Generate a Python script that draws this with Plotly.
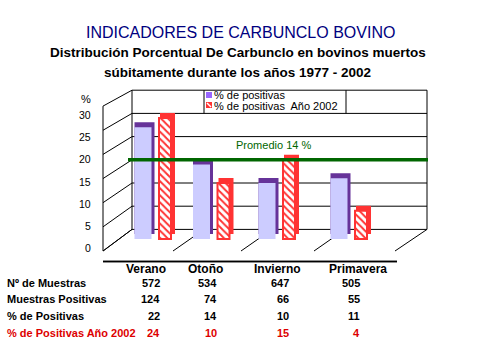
import plotly.graph_objects as go

# ---------------- data ----------------
categories = ["Verano", "Otoño", "Invierno", "Primavera"]
n_muestras = [572, 534, 647, 505]
muestras_positivas = [124, 74, 66, 55]
pct_positivas = [22, 14, 10, 11]
pct_positivas_2002 = [24, 10, 15, 4]
y_ticks = [0, 5, 10, 15, 20, 25, 30]
promedio_label = 14          # value written in the label
promedio_drawn = 15          # where the line sits on the back wall

series_names = ["% de positivas", "% de positivas  Año 2002"]
row_labels = ["Nº de Muestras", "Muestras Positivas", "% de Positivas", "% de Positivas Año 2002"]

# ---------------- layout constants (pixels) ----------------
W, H = 479, 341
FONT = "Arial, 'Liberation Sans', sans-serif"
PURPLE_FRONT = "#CCCCFF"
PURPLE_DARK = "#663399"
PURPLE_LEG = "#9966FF"
RED = "#FF3333"
RED_TXT = "#DD0000"
GREEN = "#006600"

GROUP_X = [154, 212.5, 278, 350]      # cluster centres
BAR_OFF = 11
PW, RW = 17, 12                        # bar widths
SHADOW_DX, SHADOW_DY_PX = 3, 5

# back-wall / bar scale: pixel = B0 - BS * value
B0, BS = 229.4, 4.64
# front (left) edge of side wall
F0, FS = 251.0, 4.83
# tick-label scale
L0, LS = 248.0, 4.43

X_FRONT, X_BACK, X_RIGHT = 103, 132, 427
FLOOR_FRONT_X = [103, 173, 241, 314, 395]
FLOOR_BACK_X = [132, 204, 272, 345, 427]
BAR_FLOOR = (B0 - 239.0) / BS          # bar bottoms sit on the floor
DY = SHADOW_DY_PX / BS
TABLE_LINE_X = [103, 397]
TABLE_LINE_Y = 261.5


def back_px(v):
    return B0 - BS * v


def front_px(v):
    return F0 - FS * v


def label_px(v):
    return L0 - LS * v


fig = go.Figure()

purple_x = [g - BAR_OFF for g in GROUP_X]
red_x = [g + BAR_OFF for g in GROUP_X]

# purple series: dark 3-D body then light front face
fig.add_bar(x=[x + SHADOW_DX / 2 for x in purple_x],
            y=[v - BAR_FLOOR for v in pct_positivas], base=BAR_FLOOR + DY,
            width=PW + SHADOW_DX, marker=dict(color=PURPLE_DARK, line=dict(width=0)),
            yaxis="y2", showlegend=False, hoverinfo="skip")
fig.add_bar(x=purple_x, y=[v - BAR_FLOOR for v in pct_positivas], base=BAR_FLOOR,
            width=PW, marker=dict(color=PURPLE_FRONT, line=dict(width=0)),
            yaxis="y2", name=series_names[0], showlegend=False)

# red series: solid 3-D body then hatched front face
fig.add_bar(x=[x + 2.5 for x in red_x],
            y=[v - BAR_FLOOR for v in pct_positivas_2002], base=BAR_FLOOR + DY,
            width=RW + 3, marker=dict(color=RED, line=dict(width=0)),
            yaxis="y2", showlegend=False, hoverinfo="skip")
fig.add_bar(x=red_x, y=[v - BAR_FLOOR for v in pct_positivas_2002], base=BAR_FLOOR,
            width=RW,
            marker=dict(color="white", line=dict(color=RED, width=2),
                        pattern=dict(shape="\\", fgcolor=RED, bgcolor="white",
                                     size=5, solidity=0.4, fillmode="replace")),
            yaxis="y2", name=series_names[1], showlegend=False)

# table top line, drawn last on the bar axis
tl_v = (B0 - TABLE_LINE_Y) / BS
fig.add_scatter(x=TABLE_LINE_X, y=[tl_v, tl_v], mode="lines",
                line=dict(color="black", width=1.5), yaxis="y2",
                showlegend=False, hoverinfo="skip", cliponaxis=False)

shapes = []
LINE = dict(color="black", width=1)

# back-wall gridlines
for v in y_ticks:
    shapes.append(dict(type="line", xref="x", yref="y", x0=X_BACK, x1=X_RIGHT,
                       y0=back_px(v), y1=back_px(v), line=LINE, layer="below"))
    # side wall slanted lines
    shapes.append(dict(type="line", xref="x", yref="y", x0=X_FRONT, x1=X_BACK,
                       y0=front_px(v), y1=back_px(v), line=LINE, layer="below"))
# vertical edges
top, bot = max(y_ticks), min(y_ticks)
shapes.append(dict(type="line", xref="x", yref="y", x0=X_FRONT, x1=X_FRONT,
                   y0=front_px(top), y1=front_px(bot), line=LINE, layer="below"))
for xx in (X_BACK, X_RIGHT):
    shapes.append(dict(type="line", xref="x", yref="y", x0=xx, x1=xx,
                       y0=back_px(top), y1=back_px(bot), line=LINE, layer="below"))
# floor dividers
for xf, xb in zip(FLOOR_FRONT_X, FLOOR_BACK_X):
    shapes.append(dict(type="line", xref="x", yref="y", x0=xf, x1=xb,
                       y0=front_px(bot), y1=back_px(bot), line=LINE, layer="below"))
# table line also as a below-layer shape on the pixel axis
shapes.append(dict(type="line", xref="x", yref="y", x0=TABLE_LINE_X[0], x1=TABLE_LINE_X[1],
                   y0=TABLE_LINE_Y, y1=TABLE_LINE_Y,
                   line=dict(color="black", width=1.5), layer="below"))
# legend box verticals
for xx in (204, 346):
    shapes.append(dict(type="line", xref="x", yref="y", x0=xx, x1=xx,
                       y0=back_px(30), y1=back_px(25), line=LINE, layer="below"))
# legend swatches
shapes.append(dict(type="rect", xref="x", yref="y", x0=206, x1=212, y0=92, y1=98,
                   fillcolor=PURPLE_LEG, line=dict(width=0), layer="above"))
shapes.append(dict(type="rect", xref="x", yref="y", x0=206, x1=212, y0=102, y1=108,
                   fillcolor=RED, line=dict(width=0), layer="above"))
shapes.append(dict(type="line", xref="x", yref="y", x0=207, x1=211, y0=103, y1=107,
                   line=dict(color="white", width=1.5), layer="above"))
# average line
shapes.append(dict(type="line", xref="x", yref="y2", x0=128, x1=428,
                   y0=promedio_drawn, y1=promedio_drawn,
                   line=dict(color=GREEN, width=3.5), layer="above"))

ann = []


def txt(x, y, s, size, color="black", xanchor="center"):
    ann.append(dict(x=x, y=y, xref="x", yref="y", text=s, showarrow=False,
                    xanchor=xanchor, yanchor="middle",
                    font=dict(family=FONT, size=size, color=color)))


# titles
txt(240, 32, "INDICADORES DE CARBUNCLO BOVINO", 16, "#000080")
txt(238, 52, "<b>Distribución Porcentual De Carbunclo en bovinos muertos</b>", 13.5)
txt(237, 72, "<b>súbitamente durante los años 1977 - 2002</b>", 13.5)

# axis ticks
for v in y_ticks:
    txt(93, label_px(v), str(v), 10.5, xanchor="right")
txt(86, 99, "%", 11)

# legend text
txt(212, 95, series_names[0], 11, xanchor="left")
txt(212, 106, series_names[1], 11, xanchor="left")

# average label
txt(234, 145, f"Promedio {promedio_label} %", 11, GREEN, xanchor="left")

# data table
HEAD_X = [146, 205, 277, 358]
NUM_RIGHT = [162, 219, 291, 362]
ROW_Y = [283, 299, 316, 333]
for cx, c in zip(HEAD_X, categories):
    txt(cx, 269, f"<b>{c}</b>", 12)
rows = [n_muestras, muestras_positivas, pct_positivas, pct_positivas_2002]
for i, (lab, vals) in enumerate(zip(row_labels, rows)):
    col = RED_TXT if i == 3 else "black"
    txt(5, ROW_Y[i], f"<b>{lab}</b>", 11, col, xanchor="left")
    for xr, v in zip(NUM_RIGHT, vals):
        txt(xr, ROW_Y[i], f"<b>{v}</b>", 11, col, xanchor="right")

fig.update_layout(
    width=W, height=H, margin=dict(l=0, r=0, t=0, b=0),
    paper_bgcolor="white", plot_bgcolor="white",
    barmode="overlay", showlegend=False,
    xaxis=dict(range=[0, W], visible=False, fixedrange=True),
    yaxis=dict(range=[H, 0], visible=False, fixedrange=True),
    yaxis2=dict(range=[(B0 - H) / BS, B0 / BS], overlaying="y", visible=False,
                fixedrange=True),
    shapes=shapes, annotations=ann,
    font=dict(family=FONT),
)

fig.write_html("out.html", config={"displayModeBar": False})
